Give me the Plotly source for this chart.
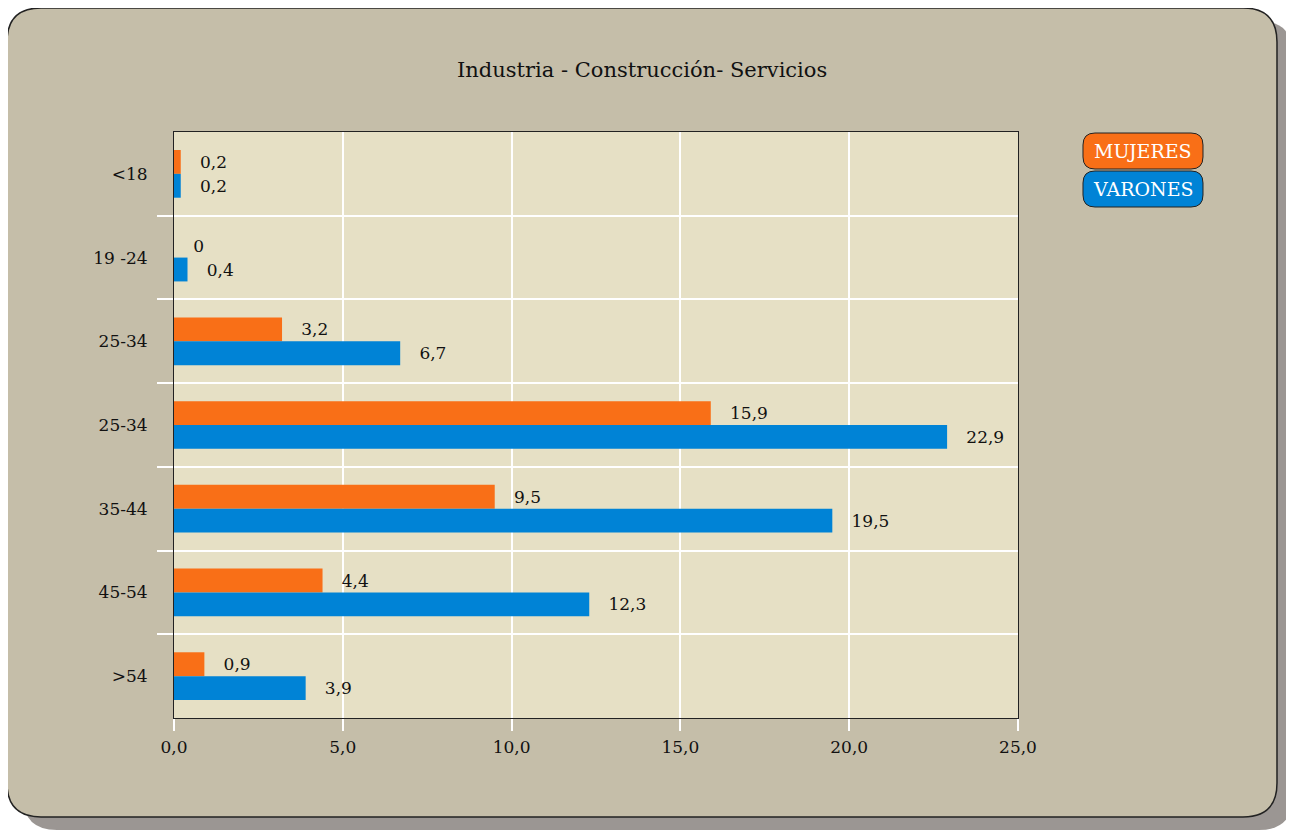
import plotly.graph_objects as go

categories = ["<18", "19 -24", "25-34", "25-34", "35-44", "45-54", ">54"]
mujeres = [0.2, 0, 3.2, 15.9, 9.5, 4.4, 0.9]
varones = [0.2, 0.4, 6.7, 22.9, 19.5, 12.3, 3.9]
series_names = ["MUJERES", "VARONES"]
x_ticks = [0, 5, 10, 15, 20, 25]

# the page body adds an 8px margin, so work in screen pixels and shift
OFF = 8
W, H = 1294 - OFF, 831 - OFF
L, R, T, B = 174 - OFF, 1294 - 1018, 132 - OFF, 831 - 718
PW, PH = W - L - R, H - T - B

FONT = "DejaVu Serif"
ORANGE = "#F96F17"
BLUE = "#0083D6"


def px(x, y):
    # screen pixel -> paper coords
    return (x - OFF - L) / PW, (H - B - (y - OFF)) / PH


def rounded_rect(x0, y0, x1, y1, r):
    def p(x, y):
        a, b = px(x, y)
        return f"{a:.5f},{b:.5f}"

    pts = [
        "M" + p(x0 + r, y0),
        "L" + p(x1 - r, y0),
        "Q" + p(x1, y0) + " " + p(x1, y0 + r),
        "L" + p(x1, y1 - r),
        "Q" + p(x1, y1) + " " + p(x1 - r, y1),
        "L" + p(x0 + r, y1),
        "Q" + p(x0, y1) + " " + p(x0, y1 - r),
        "L" + p(x0, y0 + r),
        "Q" + p(x0, y0) + " " + p(x0 + r, y0),
    ]
    return " ".join(pts) + " Z"


def label(v):
    return "\u00a0\u00a0\u00a0" + str(v).replace(".", ",")


pos = list(range(len(categories)))

fig = go.Figure()
for name, vals, col in [(series_names[0], mujeres, ORANGE), (series_names[1], varones, BLUE)]:
    fig.add_trace(
        go.Bar(
            x=vals,
            y=pos,
            orientation="h",
            name=name,
            marker_color=col,
            marker_line_width=0,
            text=[label(v) for v in vals],
            textposition="outside",
            cliponaxis=False,
            textfont={"family": FONT, "size": 17, "color": "#111"},
        )
    )

shapes = [
    {"type": "path", "xref": "paper", "yref": "paper", "layer": "below",
     "path": rounded_rect(23, 21, 1293, 830, 34),
     "fillcolor": "#9B9693", "line": {"width": 0}},
    {"type": "path", "xref": "paper", "yref": "paper", "layer": "below",
     "path": rounded_rect(7, 8, 1277, 817, 34),
     "fillcolor": "#C5BEA9", "line": {"color": "#222", "width": 1.5}},
    {"type": "rect", "xref": "paper", "yref": "paper", "layer": "below",
     "x0": 0, "x1": 1, "y0": 0, "y1": 1,
     "fillcolor": "#E6E0C5", "line": {"width": 0}},
]

annotations = [
    {"text": "Industria - Construcción- Servicios", "xref": "paper", "yref": "paper",
     "x": px(642, 0)[0], "y": px(0, 70)[1], "xanchor": "center", "yanchor": "middle",
     "showarrow": False, "font": {"family": FONT, "size": 21, "color": "#111"}},
]

for i, (name, col) in enumerate(zip(series_names, [ORANGE, BLUE])):
    y0 = 133 + i * 38
    shapes.append(
        {"type": "path", "xref": "paper", "yref": "paper",
         "path": rounded_rect(1083, y0, 1203, y0 + 36, 12),
         "fillcolor": col, "line": {"color": "#222", "width": 1}}
    )
    annotations.append(
        {"text": name, "xref": "paper", "yref": "paper",
         "x": px(1143, 0)[0], "y": px(0, y0 + 18)[1], "xanchor": "center", "yanchor": "middle",
         "showarrow": False, "font": {"family": FONT, "size": 19, "color": "white"}}
    )

fig.update_layout(
    width=W,
    height=H,
    margin={"l": L, "r": R, "t": T, "b": B},
    paper_bgcolor="white",
    plot_bgcolor="rgba(0,0,0,0)",
    barmode="group",
    bargap=0.43,
    bargroupgap=0,
    showlegend=False,
    separators=",.",
    font={"family": FONT, "size": 17, "color": "#111"},
    shapes=shapes,
    annotations=annotations,
)

fig.update_xaxes(
    range=[0, 25],
    tickvals=x_ticks,
    tickformat=".1f",
    showgrid=True,
    gridcolor="white",
    gridwidth=1.5,
    ticks="outside",
    ticklen=12,
    tickcolor="white",
    tickwidth=1.5,
    ticklabelstandoff=2,
    showline=True,
    mirror=True,
    linecolor="#222",
    linewidth=1,
    zeroline=False,
    tickfont={"family": FONT, "size": 17},
)

fig.update_yaxes(
    range=[len(categories) - 0.5, -0.5],
    tickvals=pos,
    ticktext=categories,
    showgrid=False,
    ticks="outside",
    ticklen=22,
    tickcolor="rgba(0,0,0,0)",
    minor={"tickvals": [p + 0.5 for p in pos[:-1]], "showgrid": True, "gridcolor": "white",
           "gridwidth": 1.5, "ticks": "outside", "ticklen": 16, "tickcolor": "white", "tickwidth": 1.5},
    showline=True,
    mirror=True,
    linecolor="#222",
    linewidth=1,
    zeroline=False,
    tickfont={"family": FONT, "size": 17},
)

fig.write_html("out.html")
